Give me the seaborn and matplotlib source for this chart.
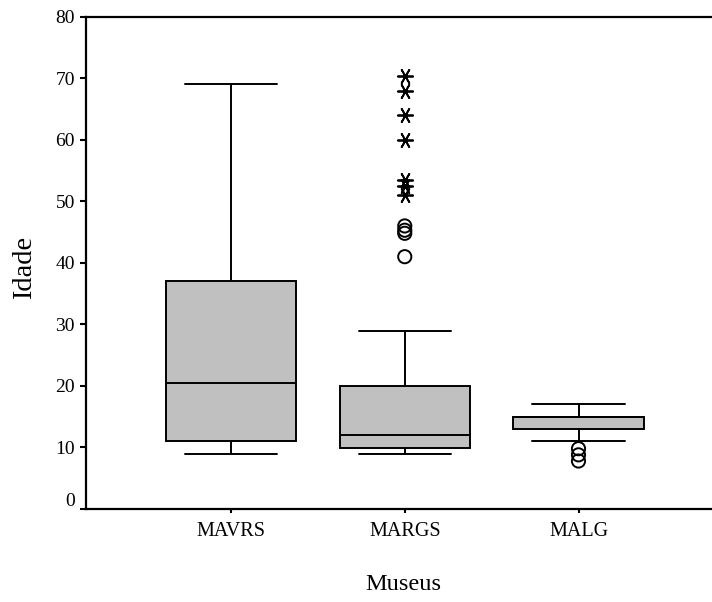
import matplotlib
matplotlib.use("Agg")
import matplotlib.pyplot as plt
import matplotlib.transforms as mtransforms
import seaborn as sns
import pandas as pd

# ---- data ----
museus = ["MAVRS", "MARGS", "MALG"]
whisker_low = [9, 9, 11]
q1 = [11, 9.9, 13]
median = [20.5, 12, 15]
q3 = [37, 20, 15]
whisker_high = [69, 29, 17]

# outliers (circles) and extremes (stars)
outlier_museu = ["MARGS", "MARGS", "MARGS", "MARGS", "MALG", "MALG", "MALG"]
outlier_idade = [46, 45.3, 44.8, 41, 9.8, 8.8, 7.8]
extreme_museu = ["MARGS"] * 7
extreme_idade = [70.3, 68, 64, 60, 53.5, 52.5, 51]

y_ticks = [0, 10, 20, 30, 40, 50, 60, 70, 80]

# five-number summaries -> a small table the boxplot can read
rows = []
for m, lo, a, md, b, hi in zip(museus, whisker_low, q1, median, q3, whisker_high):
    for v in (lo, a, a, md, b, b, hi):
        rows.append({"Museu": m, "Idade": v})
box_df = pd.DataFrame(rows)

sns.set_style("ticks")
plt.rcParams["font.family"] = ["Liberation Serif", "DejaVu Serif"]
plt.rcParams["text.color"] = "black"
plt.rcParams["axes.labelcolor"] = "black"

fig = plt.figure(figsize=(7.12, 6.02), dpi=100)
ax = fig.add_axes([86 / 712, 1 - 509 / 602, 1 - 86 / 712, (509 - 16.7) / 602])

sns.boxplot(data=box_df, x="Museu", y="Idade", order=museus, color="#c0c0c0",
            saturation=1, width=0.75, linecolor="black", linewidth=1.4,
            showfliers=False, capwidths=0.53, ax=ax)

n0 = len(ax.collections)
sns.stripplot(x=outlier_museu, y=outlier_idade, order=museus, jitter=False,
              marker="o", size=9.5, color="white", edgecolor="black",
              linewidth=1.4, ax=ax)
for c in ax.collections[n0:]:
    c.set_facecolor("none")
    c.set_edgecolor("black")
    c.set_linewidth(1.4)

n1 = len(ax.collections)
sns.stripplot(x=extreme_museu, y=extreme_idade, order=museus, jitter=False,
              marker=(6, 2, 90), size=11, color="black", edgecolor="black",
              linewidth=1.3, ax=ax)
for c in ax.collections[n1:]:
    c.set_edgecolor("black")
    c.set_linewidth(1.3)

ax.set_xlim(-145 / 173.75, (712 - 231) / 173.75)
ax.set_ylim(0, 80)
ax.set_yticks(y_ticks)
ax.set_yticklabels([str(t) for t in y_ticks])

for side in ("left", "bottom", "top"):
    ax.spines[side].set_linewidth(1.6)
    ax.spines[side].set_color("black")
ax.spines["right"].set_visible(False)

ax.tick_params(axis="y", direction="out", length=4, width=1.5, labelsize=14,
               pad=4, colors="black")
ax.tick_params(axis="x", direction="out", length=3, width=1.5, labelsize=14.5,
               pad=6, colors="black")

ax.set_ylabel("Idade", fontsize=20.5, color="black")
ax.set_xlabel("Museus", fontsize=17.5, color="black")
ax.yaxis.set_label_coords(-0.078, 0.49)
ax.xaxis.set_label_coords(0.507, -0.132)
ax.xaxis.label.set_va("top")

# the "0" label sits a little above its tick in the reference
off = mtransforms.ScaledTranslation(0, 0.1, fig.dpi_scale_trans)
lab0 = ax.get_yticklabels()[0]
lab0.set_transform(lab0.get_transform() + off)

fig.savefig("out.png", dpi=100)
